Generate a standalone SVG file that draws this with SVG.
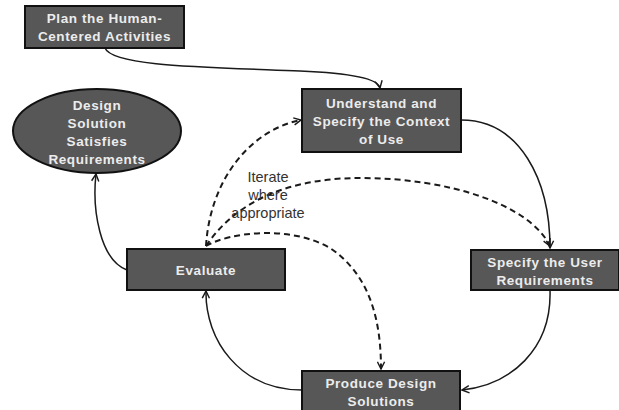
<svg xmlns="http://www.w3.org/2000/svg" width="619" height="410" viewBox="0 0 619 410">
<defs>
<style>
.box{fill:#575757;stroke:#111;stroke-width:2}
.t{font-family:"Liberation Sans",Arial,sans-serif;font-size:13.5px;font-weight:bold;fill:#ececec;text-anchor:middle;letter-spacing:0.6px}
.lbl{font-family:"Liberation Sans",Arial,sans-serif;font-size:14.5px;fill:#333;text-anchor:middle}
.c{fill:none;stroke:#1a1a1a;stroke-width:1.5}
.d{fill:none;stroke:#1a1a1a;stroke-width:2;stroke-dasharray:6,4}
</style>
<marker id="a" viewBox="0 0 10 10" markerUnits="userSpaceOnUse" markerWidth="9" markerHeight="9" refX="9" refY="5" orient="auto">
<path d="M1,1 L9,5 L1,9" fill="none" stroke="#1a1a1a" stroke-width="1.6"/>
</marker>
</defs>
<rect width="619" height="410" fill="#fff"/>
<g id="connectors">
<path class="c" d="M105,48 C112,66 200,67 300,71 C350,73 378,78 380,88" marker-end="url(#a)"/>
<path class="c" d="M461,120 C520,120 550,180 550,248" marker-end="url(#a)"/>
<path class="c" d="M550,290 C552,350 510,385 462,390" marker-end="url(#a)"/>
<path class="c" d="M302,390 C240,390 205,340 206,291" marker-end="url(#a)"/>
<path class="c" d="M127,270 C100,260 92,210 96,174" marker-end="url(#a)"/>
<path class="d" d="M206,246 C210,180 250,130 301,120" marker-end="url(#a)"/>
<path class="d" d="M206,246 C240,195 300,178 360,178 C450,178 530,205 550,246" marker-end="url(#a)"/>
<path class="d" d="M206,246 C230,232 290,225 330,248 C370,275 381,320 381,369" marker-end="url(#a)"/>
</g>
<g id="plan">
<rect class="box" x="25" y="6" width="159" height="42"/>
<text class="t" x="104.5" y="23">Plan the Human-</text>
<text class="t" x="104.5" y="41">Centered Activities</text>
</g>
<g id="satisfies">
<ellipse class="box" cx="97" cy="131" rx="84" ry="42"/>
<text class="t" x="97" y="110">Design</text>
<text class="t" x="97" y="128">Solution</text>
<text class="t" x="97" y="146">Satisfies</text>
<text class="t" x="97" y="164">Requirements</text>
</g>
<g id="understand">
<rect class="box" x="302" y="89" width="159" height="63"/>
<text class="t" x="381.5" y="108">Understand and</text>
<text class="t" x="381.5" y="126">Specify the Context</text>
<text class="t" x="381.5" y="144">of Use</text>
</g>
<g id="specify">
<rect class="box" x="471" y="250" width="148" height="40"/>
<text class="t" x="545" y="267">Specify the User</text>
<text class="t" x="545" y="285">Requirements</text>
</g>
<g id="evaluate">
<rect class="box" x="127" y="249" width="158" height="41"/>
<text class="t" x="206" y="275">Evaluate</text>
</g>
<g id="produce">
<rect class="box" x="302" y="371" width="158" height="42"/>
<text class="t" x="381" y="388">Produce Design</text>
<text class="t" x="381" y="406">Solutions</text>
</g>
<g id="label">
<text class="lbl" x="268" y="182">Iterate</text>
<text class="lbl" x="268" y="200">where</text>
<text class="lbl" x="268" y="218">appropriate</text>
</g>
</svg>
